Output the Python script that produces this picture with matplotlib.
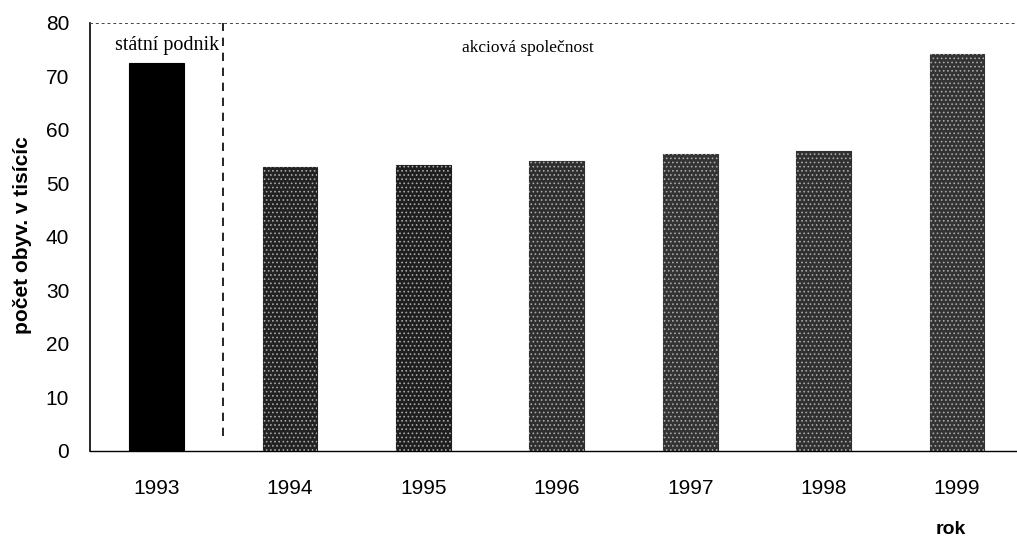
import matplotlib
matplotlib.use("Agg")
import matplotlib.pyplot as plt

years = ["1993", "1994", "1995", "1996", "1997", "1998", "1999"]
values = [72.5, 53.0, 53.5, 54.2, 55.5, 56.0, 74.2]
yticks = [0, 10, 20, 30, 40, 50, 60, 70, 80]

bar_colors = ["#000000", "#222222", "#1e1e1e", "#2e2e2e", "#333333", "#303030", "#333333"]
hatch_on = [False, True, True, True, True, True, True]

plt.rcParams["font.family"] = ["Liberation Sans", "DejaVu Sans"]
plt.rcParams["hatch.linewidth"] = 0.7

fig = plt.figure(figsize=(10.17, 5.41), dpi=100)
ax = fig.add_axes([0.0885, 0.1665, 0.9115, 0.791])

x = list(range(len(years)))
ax.bar(x, values, width=0.41, color=bar_colors, edgecolor=bar_colors, linewidth=0.8, zorder=2)
for xi, v, h in zip(x, values, hatch_on):
    if h:
        ax.bar(xi, v, width=0.41, facecolor="none", edgecolor="#a8a8a8", hatch="....", linewidth=0, zorder=3)

ax.set_xlim(-0.5, 6.45)
ax.set_ylim(0, 80)
ax.set_yticks(yticks)
ax.set_xticks(x)
ax.set_xticklabels(years, fontsize=15)
ax.tick_params(axis="x", length=0, pad=20)
ax.tick_params(axis="y", length=0, pad=15, labelsize=15)

ax.spines["right"].set_visible(False)
ax.spines["top"].set_linestyle((0, (2, 4)))
ax.spines["top"].set_color("#444444")
ax.spines["top"].set_linewidth(0.7)
ax.spines["left"].set_linewidth(1.2)
ax.spines["bottom"].set_linewidth(1.0)

ax.vlines(0.5, 2.8, 80, colors="black", linestyles=(0, (5, 4)), linewidth=1.2, zorder=4)

ax.text(0.08, 75.8, "státní podnik", family=["Liberation Serif", "DejaVu Serif"], fontsize=14.5,
        ha="center", va="center")
ax.text(2.78, 75.4, "akciová společnost", family=["Liberation Serif", "DejaVu Serif"], fontsize=12.5,
        ha="center", va="center")

fig.text(0.022, 0.565, "počet obyv. v tisícíc", rotation=90, fontsize=15, fontweight="bold",
         ha="center", va="center")
fig.text(0.935, 0.022, "rok", fontsize=14, fontweight="bold", ha="center", va="center")

fig.savefig("out.png", dpi=100)
